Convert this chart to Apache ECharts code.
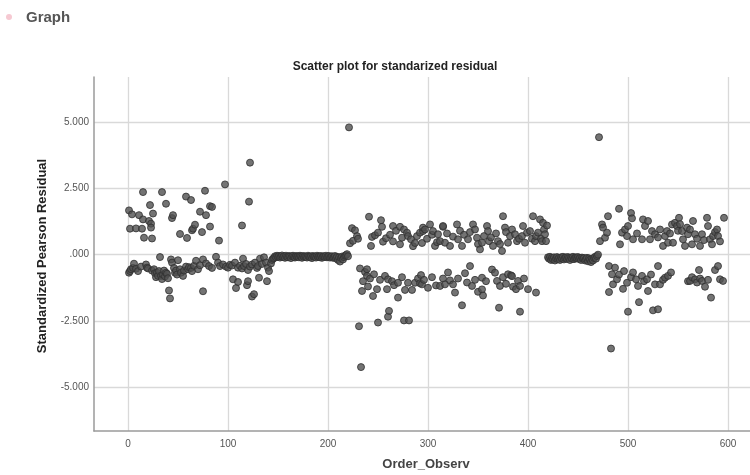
<!DOCTYPE html>
<html>
<head>
<meta charset="utf-8">
<script src="https://cdn.jsdelivr.net/npm/echarts@6/dist/echarts.min.js"></script>
<style>html,body{margin:0;padding:0;background:#fff;}#chart{width:750px;height:475px;}</style>
</head>
<body>
<div id="chart"></div>
<script>
// ---- data: [Order_Observ, Standardized Pearson Residual] ----
const upperEarly = [[1,1.67],[2,0.98],[4,1.52],[8,0.99],[11,1.49],[14,0.98],[15,2.36],[15,1.33],[16,0.64],[21,1.27],[22,1.87],[23,1.17],[23,1.02],[24,0.61],[25,1.55],[34,2.36],[38,1.92],[44,1.38],[45,1.49],[52,0.78],[58,2.19],[59,0.63],[63,2.06],[64,0.92],[65,0.98],[67,1.13],[72,1.62],[74,0.85],[77,2.41],[78,1.49],[82,1.83],[82,1.06],[84,1.8],[91,0.53],[97,2.65],[114,1.1],[121,2.0],[122,3.47]];
const lowerEarly = [[1,-0.68],[2,-0.62],[3,-0.55],[5,-0.5],[6,-0.34],[8,-0.53],[10,-0.62],[13,-0.45],[18,-0.37],[19,-0.49],[20,-0.52],[24,-0.6],[26,-0.55],[27,-0.7],[28,-0.85],[29,-0.68],[30,-0.8],[31,-0.62],[32,-0.09],[33,-0.8],[34,-0.92],[35,-0.75],[36,-0.6],[37,-0.82],[38,-0.68],[39,-0.72],[40,-0.89],[41,-1.35],[42,-1.65],[43,-0.18],[44,-0.3],[46,-0.5],[47,-0.68],[48,-0.6],[49,-0.75],[50,-0.21],[52,-0.55],[53,-0.68],[55,-0.8],[56,-0.6],[58,-0.45],[60,-0.55],[61,-0.47],[63,-0.5],[64,-0.62],[66,-0.42],[68,-0.23],[70,-0.55],[72,-0.4],[75,-0.18],[75,-1.38],[78,-0.33],[81,-0.43],[84,-0.5],[88,-0.08],[90,-0.3],[92,-0.43],[95,-0.37],[98,-0.45],[100,-0.49],[102,-0.38],[104,-0.41],[105,-0.93],[107,-0.3],[108,-1.26],[110,-0.49],[110,-1.03],[112,-0.42],[114,-0.52],[115,-0.15],[116,-0.43],[118,-0.35],[119,-1.15],[120,-0.58],[120,-1.0],[122,-0.45],[124,-0.37],[124,-1.58],[126,-1.49],[127,-0.3],[129,-0.5],[130,-0.43],[131,-0.87],[132,-0.15],[134,-0.35],[136,-0.1],[138,-0.3],[139,-1.0],[140,-0.49],[141,-0.62],[143,-0.33],[144,-0.2],[145,-0.15]];
const flatFirst = [[146,-0.12],[147,-0.06],[148,-0.1],[149,-0.04],[150,-0.08],[151,-0.05],[152,-0.11],[153,-0.07],[154,-0.03],[155,-0.09],[156,-0.06],[157,-0.12],[158,-0.04],[159,-0.08],[160,-0.1],[161,-0.05],[162,-0.07],[163,-0.13],[164,-0.06],[165,-0.04],[166,-0.09],[167,-0.11],[168,-0.05],[169,-0.08],[170,-0.06],[171,-0.1],[172,-0.04],[173,-0.07],[174,-0.12],[175,-0.05],[176,-0.09],[177,-0.06],[178,-0.08],[179,-0.11],[180,-0.04],[181,-0.07],[182,-0.1],[183,-0.06],[184,-0.13],[185,-0.05],[186,-0.08],[187,-0.07],[188,-0.11],[189,-0.04],[190,-0.09],[191,-0.06],[192,-0.1],[193,-0.05],[194,-0.12],[195,-0.07],[196,-0.06],[197,-0.09],[198,-0.04],[199,-0.1],[200,-0.07],[201,-0.05],[202,-0.11],[203,-0.08],[204,-0.06],[205,-0.12],[206,-0.09],[207,-0.05],[208,-0.14],[209,-0.08],[210,-0.2],[211,-0.1],[212,-0.26],[213,-0.12],[214,-0.07],[215,-0.18],[216,-0.09],[217,-0.04],[218,-0.02],[219,0.02],[220,-0.06]];
const upperMid = [[222,0.43],[224,1.0],[225,0.52],[227,0.92],[229,0.7],[230,0.6],[241,1.43],[243,0.33],[244,0.67],[247,0.73],[250,0.83],[253,1.3],[254,1.05],[255,0.49],[258,0.62],[262,0.75],[265,1.08],[265,0.5],[268,0.9],[272,1.05],[272,0.39],[274,0.64],[276,0.95],[279,0.83],[280,0.7],[283,0.58],[285,0.32],[287,0.44],[289,0.7],[292,0.83],[294,0.44],[295,0.89],[295,1.02],[297,0.95],[299,0.6],[302,1.14],[304,0.75],[305,0.89],[307,0.33],[309,0.47],[310,0.77],[312,0.51],[315,1.05],[315,1.08],[317,0.45],[319,0.8],[322,0.33],[325,0.68],[329,1.14],[330,0.58],[332,0.9],[334,0.33],[336,0.75],[340,0.58],[342,0.85],[345,1.14],[347,0.95],[349,0.64],[350,0.4],[352,0.2],[354,0.45],[356,0.7],[359,1.08],[360,0.89],[361,0.51],[363,0.65],[365,0.33],[368,0.8],[370,0.51],[372,0.4],[374,0.14],[375,1.45],[377,1.02],[378,0.85],[380,0.45],[382,0.7],[384,0.95],[387,0.77],[389,0.51],[391,0.6],[394,0.7],[395,1.08],[397,0.45],[399,0.83],[402,0.89],[404,0.6],[405,1.45],[407,0.51],[408,0.7],[410,0.83],[412,1.33],[413,0.6],[414,0.51],[415,1.2],[416,0.95],[417,0.77],[418,0.51],[419,1.1]];
const lowerMid = [[232,-0.52],[234,-1.37],[235,-1.0],[237,-0.65],[239,-0.55],[239,-0.8],[240,-1.2],[242,-0.9],[245,-1.56],[246,-0.74],[249,-1.3],[250,-2.56],[252,-0.95],[257,-0.8],[259,-1.3],[260,-2.34],[260,-0.93],[261,-2.12],[264,-1.0],[266,-1.15],[270,-1.06],[270,-1.62],[274,-0.85],[276,-2.48],[277,-1.33],[280,-1.06],[281,-2.48],[284,-1.33],[287,-1.06],[290,-0.9],[292,-1.08],[293,-0.77],[294,-1.12],[296,-0.95],[300,-1.25],[304,-0.85],[308,-1.16],[312,-1.18],[315,-0.9],[317,-1.12],[320,-0.67],[322,-0.97],[325,-1.12],[327,-1.43],[330,-0.9],[334,-1.91],[337,-0.7],[339,-1.05],[342,-0.43],[344,-1.18],[347,-0.95],[350,-1.4],[354,-0.87],[354,-1.31],[355,-1.54],[358,-1.0],[364,-0.56],[367,-0.68],[369,-0.99],[371,-2.0],[372,-1.18],[375,-0.85],[378,-1.1],[380,-0.74],[383,-0.78],[384,-0.81],[385,-1.21],[388,-1.3],[390,-0.99],[392,-1.18],[392,-2.15],[396,-0.9],[400,-1.3],[408,-1.43]];
const flatSecond = [[420,-0.1],[421,-0.15],[422,-0.08],[423,-0.2],[424,-0.12],[425,-0.18],[426,-0.1],[427,-0.22],[428,-0.14],[429,-0.09],[430,-0.17],[431,-0.12],[432,-0.2],[433,-0.1],[434,-0.15],[435,-0.08],[436,-0.18],[437,-0.12],[438,-0.1],[439,-0.16],[440,-0.09],[441,-0.13],[442,-0.2],[443,-0.11],[444,-0.15],[445,-0.08],[446,-0.17],[447,-0.12],[448,-0.1],[449,-0.14],[450,-0.09],[451,-0.16],[452,-0.12],[453,-0.2],[454,-0.11],[455,-0.15],[456,-0.13],[457,-0.22],[458,-0.17],[459,-0.12],[460,-0.25],[461,-0.14],[462,-0.19],[463,-0.28],[464,-0.16],[465,-0.22],[466,-0.12],[467,-0.08],[468,-0.15],[469,-0.05],[470,0.0]];
const upperLate = [[472,0.51],[474,1.14],[475,1.02],[477,0.64],[479,0.83],[480,1.45],[491,1.73],[492,0.39],[494,0.83],[497,0.95],[499,0.7],[500,1.08],[503,1.57],[504,1.37],[505,0.58],[509,0.8],[514,0.58],[515,1.33],[517,1.08],[520,1.27],[522,0.58],[524,0.89],[527,0.77],[530,0.65],[532,0.95],[535,0.33],[537,0.7],[539,0.89],[540,0.45],[542,0.8],[544,1.14],[545,0.45],[547,1.2],[549,1.08],[550,0.9],[551,1.39],[552,1.15],[554,0.89],[555,0.58],[557,0.33],[559,1.02],[560,0.77],[562,0.95],[564,0.39],[565,1.27],[567,0.77],[569,0.6],[572,0.33],[574,0.77],[576,0.55],[579,1.39],[580,1.08],[582,0.58],[584,0.39],[585,0.7],[587,0.85],[589,0.95],[590,0.7],[592,0.5],[596,1.39]];
const lowerLate = [[481,-0.43],[481,-1.41],[484,-0.74],[485,-1.12],[487,-0.49],[489,-0.93],[491,-0.75],[495,-1.29],[496,-0.62],[499,-1.06],[500,-2.15],[503,-0.85],[505,-0.67],[508,-0.93],[510,-1.18],[511,-1.79],[514,-0.8],[516,-1.0],[519,-0.93],[520,-1.37],[523,-0.75],[525,-2.1],[527,-1.12],[530,-0.43],[530,-2.06],[532,-1.12],[535,-0.95],[537,-0.87],[540,-0.8],[543,-0.67],[560,-1.0],[562,-0.99],[564,-0.85],[567,-0.93],[569,-1.05],[571,-0.58],[572,-0.9],[574,-0.99],[577,-1.21],[580,-0.95],[583,-1.62],[587,-0.58],[590,-0.43],[592,-0.93],[595,-0.99]];
const outliers = [[221,4.8],[231,-2.7],[233,-4.24],[471,4.43],[483,-3.54]];

const xTicks = [0,100,200,300,400,500,600];
const yTicks = [-5,-2.5,0,2.5,5];
const yTickLabels = {'-5':'-5.000','-2.5':'-2.500','0':'.000','2.5':'2.500','5':'5.000'};

const titleText = 'Scatter plot for standarized residual';
const xName = 'Order_Observ';
const yName = 'Standardized Pearson Residual';
const headerText = 'Graph';

const allPoints = [].concat(upperEarly, lowerEarly, flatFirst, upperMid, lowerMid, flatSecond, upperLate, lowerLate, outliers);

const FONT = '"Liberation Sans", Arial, sans-serif';
const chart = echarts.init(document.getElementById('chart'), null, {renderer: 'canvas'});
chart.setOption({
  animation: false,
  backgroundColor: '#ffffff',
  grid: {left: 94, top: 77, right: 0, bottom: 44, containLabel: false},
  xAxis: {
    type: 'value', min: -34, max: 622,
    axisLine: {show: true, onZero: false, lineStyle: {color: '#9a9a9a', width: 1.5}},
    axisTick: {show: false, customValues: xTicks},
    axisLabel: {customValues: xTicks, color: '#555', fontSize: 10, fontFamily: FONT, margin: 8},
    splitLine: {show: true, lineStyle: {color: '#d9d9d9', width: 1.3}}
  },
  yAxis: {
    type: 'value', min: -6.65, max: 6.7,
    axisLine: {show: true, onZero: false, lineStyle: {color: '#9a9a9a', width: 1.5}},
    axisTick: {show: false, customValues: yTicks},
    axisLabel: {customValues: yTicks, color: '#555', fontSize: 10, fontFamily: FONT, margin: 5,
      formatter: v => yTickLabels[String(v)] !== undefined ? yTickLabels[String(v)] : ''},
    splitLine: {show: true, lineStyle: {color: '#d9d9d9', width: 1.3}}
  },
  graphic: [
    {type: 'circle', shape: {cx: 9, cy: 17, r: 3}, style: {fill: '#f6c9d2'}},
    {type: 'text', x: 26, y: 18, style: {text: headerText, fontSize: 15, fontWeight: 'bold', fontFamily: FONT, fill: '#555', align: 'left', verticalAlign: 'middle'}},
    {type: 'text', x: 395, y: 67, style: {text: titleText, fontSize: 12, fontWeight: 'bold', fontFamily: FONT, fill: '#222', align: 'center', verticalAlign: 'middle'}},
    {type: 'text', x: 426, y: 464, style: {text: xName, fontSize: 13, fontWeight: 'bold', fontFamily: FONT, fill: '#444', align: 'center', verticalAlign: 'middle'}},
    {type: 'text', x: 42, y: 256, rotation: Math.PI / 2, style: {text: yName, fontSize: 13, fontWeight: 'bold', fontFamily: FONT, fill: '#222', align: 'center', verticalAlign: 'middle'}}
  ],
  series: [{
    type: 'scatter',
    data: allPoints,
    symbol: 'circle',
    symbolSize: 7,
    itemStyle: {color: 'rgba(80,80,80,0.8)', borderColor: '#2e2e2e', borderWidth: 0.8, opacity: 1}
  }]
});
</script>
</body>
</html>
